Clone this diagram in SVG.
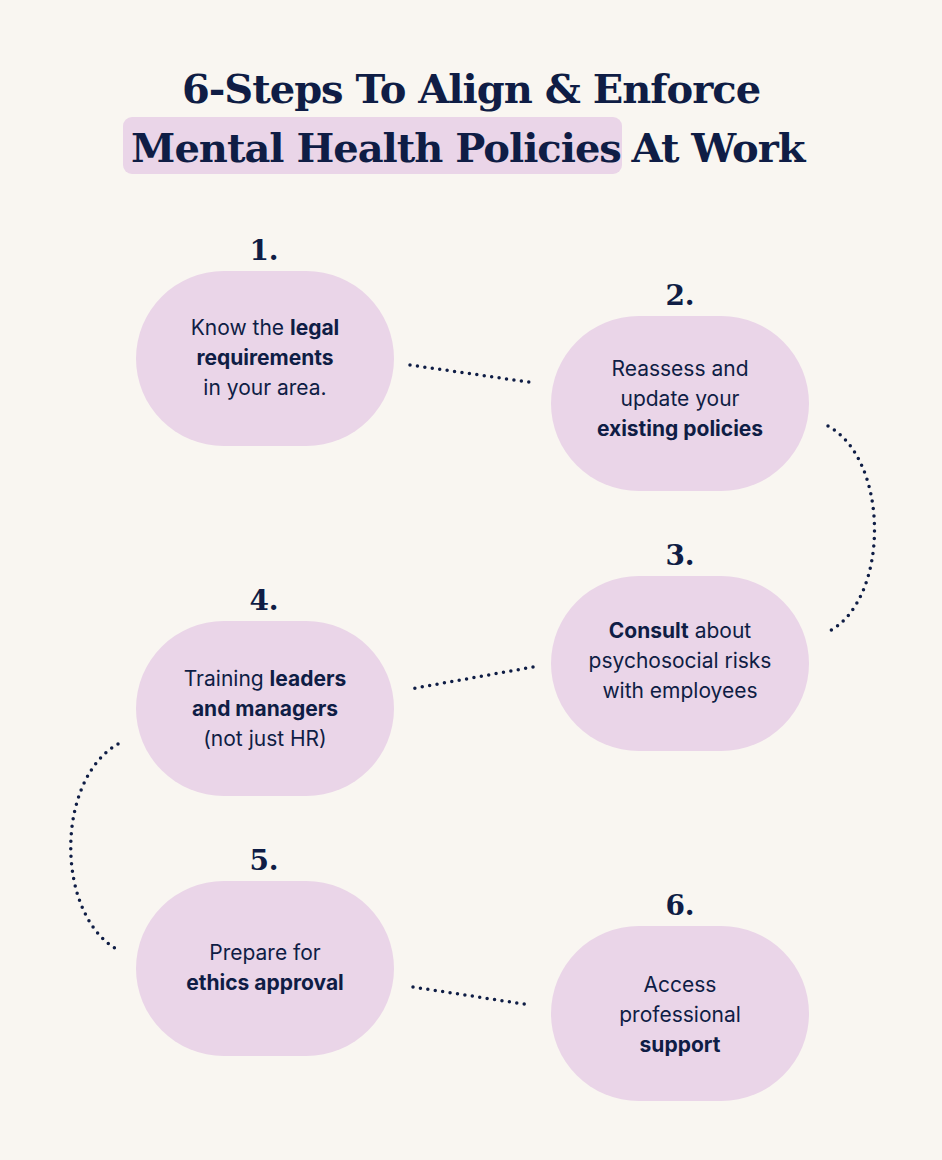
<svg xmlns="http://www.w3.org/2000/svg" width="942" height="1160" viewBox="0 0 942 1160">
<style>
.t{font-family:"DejaVu Serif","Liberation Serif",serif;font-weight:bold;fill:#0f1d45;text-anchor:middle}
.n{font-family:"DejaVu Serif","Liberation Serif",serif;font-weight:bold;fill:#0f1d45;font-size:28px;text-anchor:middle}
.b{fill:#ead5e8}
.x{font-family:Inter,"Noto Sans",sans-serif;font-size:21px;fill:#0f1d45;text-anchor:middle}
.s{font-weight:bold}
.c{fill:none;stroke:#0f1d45;stroke-width:3.5;stroke-linecap:round;stroke-dasharray:0 7.5}
</style>
<rect width="942" height="1160" fill="#f9f6f1"/>
<g id="title">
<rect x="123" y="117" width="499" height="57" rx="9" class="b"/>
<text class="t" x="471" y="103" font-size="40" letter-spacing="-1">6-Steps To Align &amp; Enforce</text>
<text class="t" x="471" y="162" font-size="40" letter-spacing="-1"><tspan x="376">Mental Health Policies</tspan><tspan x="718">At Work</tspan></text>
</g>
<g id="connectors">
<path class="c" d="M410 365 L535 383"/>
<path class="c" d="M828 426 C890 460 890 600 828 632"/>
<path class="c" d="M533 667 L410 689"/>
<path class="c" d="M118 744 C55 780 55 915 118 950"/>
<path class="c" d="M413 987 L530 1005"/>
</g>
<g id="step1"><text class="n" x="264" y="260">1.</text><rect class="b" x="136" y="271" width="258" height="175" rx="87.5"/>
<text class="x" x="265" y="335">Know the <tspan class="s">legal</tspan></text><text class="x s" x="265" y="365">requirements</text><text class="x" x="265" y="395">in your area.</text></g>
<g id="step2"><text class="n" x="680" y="305">2.</text><rect class="b" x="551" y="316" width="258" height="175" rx="87.5"/>
<text class="x" x="680" y="376">Reassess and</text><text class="x" x="680" y="406">update your</text><text class="x s" x="680" y="436">existing policies</text></g>
<g id="step3"><text class="n" x="680" y="565">3.</text><rect class="b" x="551" y="576" width="258" height="175" rx="87.5"/>
<text class="x" x="680" y="638"><tspan class="s">Consult</tspan> about</text><text class="x" x="680" y="668">psychosocial risks</text><text class="x" x="680" y="698">with employees</text></g>
<g id="step4"><text class="n" x="264" y="610">4.</text><rect class="b" x="136" y="621" width="258" height="175" rx="87.5"/>
<text class="x" x="265" y="686">Training <tspan class="s">leaders</tspan></text><text class="x s" x="265" y="716">and managers</text><text class="x" x="265" y="746">(not just HR)</text></g>
<g id="step5"><text class="n" x="264" y="870">5.</text><rect class="b" x="136" y="881" width="258" height="175" rx="87.5"/>
<text class="x" x="265" y="960">Prepare for</text><text class="x s" x="265" y="990">ethics approval</text></g>
<g id="step6"><text class="n" x="680" y="915">6.</text><rect class="b" x="551" y="926" width="258" height="175" rx="87.5"/>
<text class="x" x="680" y="992">Access</text><text class="x" x="680" y="1022">professional</text><text class="x s" x="680" y="1052">support</text></g>
</svg>
